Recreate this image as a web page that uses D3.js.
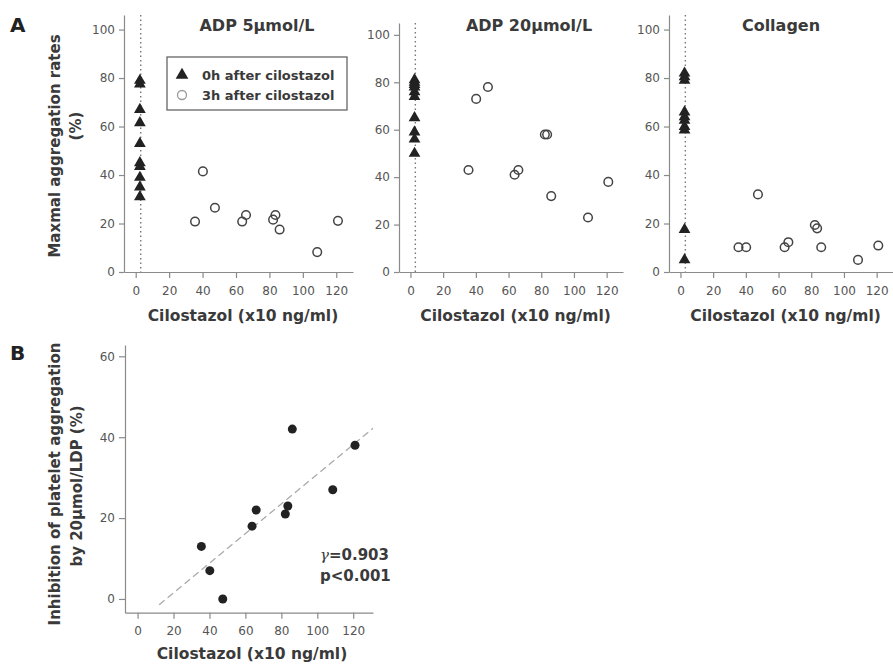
<!DOCTYPE html>
<html>
<head>
<meta charset="utf-8">
<script src="https://d3js.org/d3.v7.min.js"></script>
<style>
  body { margin: 0; background: #fff; }
  text { font-family: "DejaVu Sans", Verdana, sans-serif; }
</style>
</head>
<body>
<script>

// Cilostazol concentration 3h after dosing (x10 ng/ml), one per subject
var cilostazol = [35.5, 40.2, 47.4, 63.7, 66, 82.2, 83.6, 86.1, 108.6, 121];
// 0h values are plotted just right of zero
var baselineX = 2.5;
var dottedX = 3;

// Maximal aggregation rates (%)
var adp5_0h = [79, 77.5, 67, 61.5, 53, 45, 43.5, 39, 35, 31];
var adp5_3h = [20.8, 41.5, 26.5, 20.8, 23.5, 21.6, 23.5, 17.5, 8.2, 21.1];
var adp20_0h = [81, 80, 79, 78, 76, 74, 65, 59, 56, 50];
var adp20_3h = [43, 73, 78, 41, 43, 58, 58, 32, 23, 38];
var coll_0h = [82, 80.5, 79, 66, 64, 62.5, 60, 58.5, 17.5, 5];
var coll_3h = [10.2, 10.2, 32, 10.2, 12.3, 19.4, 18, 10.2, 5, 10.9];

// Inhibition of platelet aggregation by ADP 20umol/L (%)
var inhibition = [13, 7, 0, 18, 22, 21, 23, 42, 27, 38];

var panelTitles = ["ADP 5μmol/L", "ADP 20μmol/L", "Collagen"];
var xTicks = [0, 20, 40, 60, 80, 100, 120];
var yTicksA = [0, 20, 40, 60, 80, 100];
var yTicksB = [0, 20, 40, 60];
var legendLabels = ["0h after cilostazol", "3h after cilostazol"];
var rText = "0.903", pText = "p<0.001";
var xLabel = "Cilostazol (x10 ng/ml)";

var width = 893, height = 665;
var axisColor = "#8a8a8a", textColor = "#3a3a3a", tickColor = "#555";

var svg = d3.select("body").append("svg")
    .attr("width", width)
    .attr("height", height);

var triangle = d3.symbol().type(d3.symbolTriangle).size(60);

// layout of the three A panels
var panels = [
  { x0: 124, x1: 353, yTop: 15, yMax: 106, tx: 257, data0: adp5_0h, data3: adp5_3h },
  { x0: 399, x1: 623, yTop: 23, yMax: 105, tx: 529, data0: adp20_0h, data3: adp20_3h },
  { x0: 669, x1: 893, yTop: 15, yMax: 106, tx: 781, data0: coll_0h, data3: coll_3h }
];

function styleAxis(g) {
  g.selectAll("path, line").attr("stroke", axisColor).attr("stroke-width", 1.2);
  g.selectAll("text")
    .attr("fill", tickColor)
    .style("font-size", "12px");
}

panels.forEach(function(p, i) {
  var x = d3.scaleLinear().domain([-7, 130]).range([p.x0, p.x1]);
  var y = d3.scaleLinear().domain([0, p.yMax]).range([272, p.yTop]);

  // x axis
  svg.append("g")
      .attr("transform", "translate(0," + y(0) + ")")
      .call(d3.axisBottom(x).tickValues(xTicks).tickSize(6).tickSizeOuter(0).tickPadding(8))
      .call(styleAxis);

  // y axis
  svg.append("g")
      .attr("transform", "translate(" + p.x0 + ",0)")
      .call(d3.axisLeft(y).tickValues(yTicksA).tickSize(5).tickSizeOuter(0).tickPadding(4))
      .call(styleAxis);

  // dotted line at baseline
  svg.append("line")
      .attr("x1", x(dottedX)).attr("x2", x(dottedX))
      .attr("y1", y(p.yMax)).attr("y2", y(0))
      .attr("stroke", "#777")
      .attr("stroke-width", 1.4)
      .attr("stroke-dasharray", "1.5,3");

  // 0h triangles
  svg.selectAll(null)
      .data(p.data0)
      .enter().append("path")
      .attr("d", triangle)
      .attr("transform", function(d) { return "translate(" + x(baselineX) + "," + y(d) + ")"; })
      .attr("fill", "#222");

  // 3h open circles
  svg.selectAll(null)
      .data(p.data3)
      .enter().append("circle")
      .attr("cx", function(d, j) { return x(cilostazol[j]); })
      .attr("cy", function(d) { return y(d); })
      .attr("r", 4.3)
      .attr("fill", "none")
      .attr("stroke", "#444")
      .attr("stroke-width", 1.5);

  // panel title
  svg.append("text")
      .attr("x", p.tx)
      .attr("y", 31)
      .attr("text-anchor", "middle")
      .attr("fill", textColor)
      .style("font-size", "16px")
      .style("font-weight", "bold")
      .text(panelTitles[i]);

  // x axis label
  svg.append("text")
      .attr("x", (x(0) + x(120)) / 2 + 7)
      .attr("y", 321)
      .attr("text-anchor", "middle")
      .attr("fill", textColor)
      .style("font-size", "15.5px")
      .style("font-weight", "bold")
      .text(xLabel);
});

// y axis label for A
svg.append("text")
    .attr("transform", "translate(60,146) rotate(-90)")
    .attr("text-anchor", "middle")
    .attr("fill", textColor)
    .style("font-size", "15px")
    .style("font-weight", "bold")
    .text("Maxmal aggregation rates");
svg.append("text")
    .attr("transform", "translate(81,126) rotate(-90)")
    .attr("text-anchor", "middle")
    .attr("fill", textColor)
    .style("font-size", "15px")
    .style("font-weight", "bold")
    .text("(%)");

// legend
var legend = svg.append("g").attr("transform", "translate(167,57)");
legend.append("rect")
    .attr("width", 180).attr("height", 53)
    .attr("fill", "#fff")
    .attr("stroke", "#666")
    .attr("stroke-width", 1.3);
legend.append("path")
    .attr("d", d3.symbol().type(d3.symbolTriangle).size(70))
    .attr("transform", "translate(15,18)")
    .attr("fill", "#222");
legend.append("circle")
    .attr("cx", 15).attr("cy", 38).attr("r", 4.5)
    .attr("fill", "none").attr("stroke", "#999").attr("stroke-width", 1.3);
legend.selectAll(null)
    .data(legendLabels)
    .enter().append("text")
    .attr("x", 35)
    .attr("y", function(d, i) { return 18 + i * 20; })
    .attr("dy", "0.35em")
    .attr("fill", textColor)
    .style("font-size", "13px")
    .style("font-weight", "bold")
    .text(function(d) { return d; });

// panel letters
svg.append("text").attr("x", 10).attr("y", 32)
    .attr("fill", "#222").style("font-size", "20px").style("font-weight", "bold").text("A");
svg.append("text").attr("x", 10).attr("y", 360)
    .attr("fill", "#222").style("font-size", "20px").style("font-weight", "bold").text("B");

// ---- panel B ----
var xb = d3.scaleLinear().domain([-7, 131]).range([125, 373]);
var yb = d3.scaleLinear().domain([-3.4, 62.8]).range([612.7, 345]);

svg.append("g")
    .attr("transform", "translate(0," + yb(-3.4) + ")")
    .call(d3.axisBottom(xb).tickValues(xTicks).tickSize(6).tickSizeOuter(0).tickPadding(8))
    .call(styleAxis);

svg.append("g")
    .attr("transform", "translate(" + xb(-7) + ",0)")
    .call(d3.axisLeft(yb).tickValues(yTicksB).tickSize(6).tickSizeOuter(0).tickPadding(4))
    .call(styleAxis);

// least squares fit
var mx = d3.mean(cilostazol), my = d3.mean(inhibition);
var sxy = d3.sum(cilostazol, function(v, i) { return (v - mx) * (inhibition[i] - my); });
var sxx = d3.sum(cilostazol, function(v) { return (v - mx) * (v - mx); });
var slope = sxy / sxx, intercept = my - slope * mx;
var fitX = [12, 131];

svg.append("path")
    .datum(fitX)
    .attr("d", d3.line()
        .x(function(d) { return xb(d); })
        .y(function(d) { return yb(intercept + slope * d); }))
    .attr("fill", "none")
    .attr("stroke", "#aaa")
    .attr("stroke-width", 1.3)
    .attr("stroke-dasharray", "7,4");

svg.selectAll(null)
    .data(inhibition)
    .enter().append("circle")
    .attr("cx", function(d, i) { return xb(cilostazol[i]); })
    .attr("cy", function(d) { return yb(d); })
    .attr("r", 4.5)
    .attr("fill", "#222");

// correlation text
var rLabel = svg.append("text")
    .attr("x", 320)
    .attr("y", 560)
    .attr("fill", textColor)
    .style("font-size", "15px")
    .style("font-weight", "bold");
rLabel.append("tspan")
    .style("font-family", "'DejaVu Serif', serif")
    .style("font-style", "italic")
    .style("font-weight", "normal")
    .text("γ");
rLabel.append("tspan").text("=" + rText);

svg.append("text")
    .attr("x", 320)
    .attr("y", 581)
    .attr("fill", textColor)
    .style("font-size", "15px")
    .style("font-weight", "bold")
    .text(pText);

svg.append("text")
    .attr("transform", "translate(60,484) rotate(-90)")
    .attr("text-anchor", "middle")
    .attr("fill", textColor)
    .style("font-size", "15px")
    .style("font-weight", "bold")
    .text("Inhibition of platelet aggregation");
svg.append("text")
    .attr("transform", "translate(82,486) rotate(-90)")
    .attr("text-anchor", "middle")
    .attr("fill", textColor)
    .style("font-size", "15px")
    .style("font-weight", "bold")
    .text("by 20μmol/LDP (%)");

svg.append("text")
    .attr("x", 252)
    .attr("y", 659)
    .attr("text-anchor", "middle")
    .attr("fill", textColor)
    .style("font-size", "15.5px")
    .style("font-weight", "bold")
    .text(xLabel);

</script>
</body>
</html>
